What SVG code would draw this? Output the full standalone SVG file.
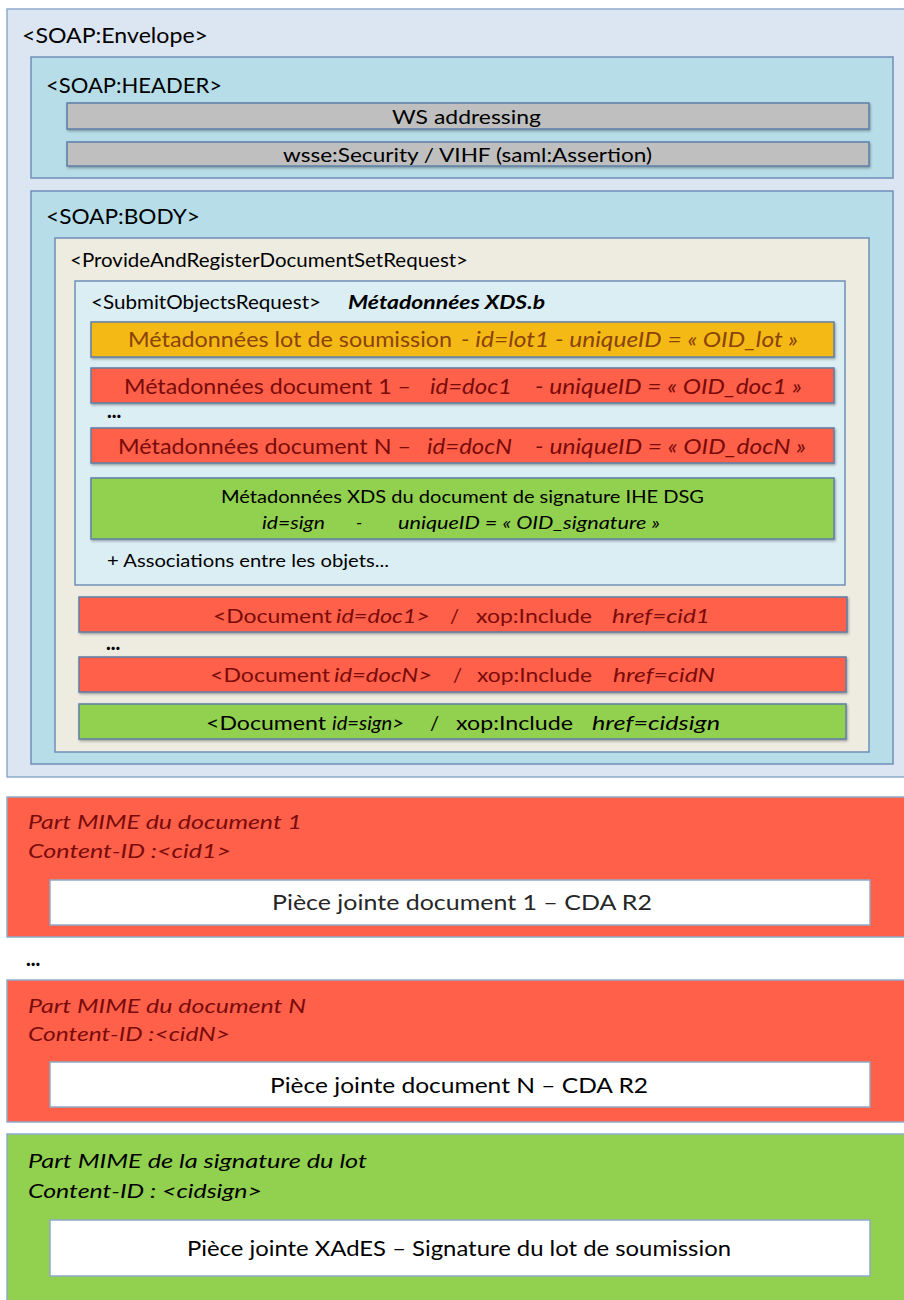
<svg xmlns="http://www.w3.org/2000/svg" width="904" height="1300" viewBox="0 0 904 1300">
<defs>
<filter id="sh" x="-5%" y="-20%" width="110%" height="150%">
<feDropShadow dx="1" dy="1.5" stdDeviation="0.8" flood-color="#404040" flood-opacity="0.45"/>
</filter>
<style>
text{font-family:Lato,"Open Sans","Liberation Sans",sans-serif;fill:#000}
.frame{stroke:#8eaacb;stroke-width:1.5}
.box{stroke:#6f8fb8;stroke-width:1.5}
.bar{stroke:#5e7fa8;stroke-width:1.5;filter:url(#sh)}
.env{fill:#dce6f2}
.sec{fill:#b7dee8}
.par{fill:#eeece1}
.sub{fill:#dbeef4}
.gray{fill:#bfbfbf}
.orange{fill:#f5b913}
.red{fill:#fe604a}
.green{fill:#92d050}
.white{fill:#ffffff;stroke:#8ea9c8;stroke-width:1.5}
.t20{font-size:22px}
.t18{font-size:20px}
.t17{font-size:18.5px}
.t16{font-size:18px}
.t19{font-size:21.5px}
.it{font-style:italic}
.bi{font-style:italic;font-weight:bold}
.brown{fill:#8a4309}
.dred{fill:#7a0b0b}
.dots{font-size:20px;font-weight:900}
</style>
</defs>
<g id="envelope">
<rect class="env frame" x="7" y="9" width="905" height="768"/>
<text class="t20" x="22" y="43" textLength="186" lengthAdjust="spacingAndGlyphs">&lt;SOAP:Envelope&gt;</text>
</g>
<g id="header">
<rect class="sec box" x="31" y="57" width="862" height="121"/>
<text class="t20" x="46" y="93" textLength="176" lengthAdjust="spacingAndGlyphs">&lt;SOAP:HEADER&gt;</text>
</g>
<g id="ws-addressing">
<rect class="gray bar" x="67" y="103" width="802" height="26"/>
<text class="t18" x="392" y="124" textLength="149" lengthAdjust="spacingAndGlyphs">WS addressing</text>
</g>
<g id="wsse-security">
<rect class="gray bar" x="67" y="142" width="802" height="24"/>
<text class="t18" x="283" y="162" textLength="369" lengthAdjust="spacingAndGlyphs">wsse:Security / VIHF (saml:Assertion)</text>
</g>
<g id="body">
<rect class="sec box" x="31" y="191" width="862" height="573"/>
<text class="t20" x="46" y="224" textLength="154" lengthAdjust="spacingAndGlyphs">&lt;SOAP:BODY&gt;</text>
</g>
<g id="provide-and-register">
<rect class="par box" x="55" y="238" width="814" height="514"/>
<text class="t17" x="70" y="267" textLength="398" lengthAdjust="spacingAndGlyphs">&lt;ProvideAndRegisterDocumentSetRequest&gt;</text>
</g>
<g id="submit-objects-request">
<rect class="sub box" x="75" y="281" width="770" height="304"/>
<text class="t17" x="91" y="309"><tspan textLength="230" lengthAdjust="spacingAndGlyphs">&lt;SubmitObjectsRequest&gt;</tspan><tspan class="bi" x="348" textLength="197" lengthAdjust="spacingAndGlyphs">Métadonnées XDS.b</tspan></text>
<text class="dots" x="107" y="418">...</text>
<text class="t16" x="107" y="567" textLength="282" lengthAdjust="spacingAndGlyphs">+ Associations entre les objets...</text>
</g>
<g id="meta-lot">
<rect class="orange bar" x="91" y="322" width="743" height="35"/>
<text class="t20 brown" x="128" y="347"><tspan textLength="324" lengthAdjust="spacingAndGlyphs">Métadonnées lot de soumission</tspan><tspan class="it" x="461" textLength="337" lengthAdjust="spacingAndGlyphs">- id=lot1 - uniqueID = « OID_lot »</tspan></text>
</g>
<g id="meta-doc1">
<rect class="red bar" x="91" y="368" width="743" height="35"/>
<text class="t20 dred" x="124" y="394"><tspan textLength="287" lengthAdjust="spacingAndGlyphs">Métadonnées document 1 –</tspan><tspan class="it" x="430" textLength="82" lengthAdjust="spacingAndGlyphs">id=doc1</tspan><tspan class="it" x="535" textLength="267" lengthAdjust="spacingAndGlyphs">- uniqueID = « OID_doc1 »</tspan></text>
</g>
<g id="meta-docN">
<rect class="red bar" x="91" y="428" width="743" height="35"/>
<text class="t20 dred" x="118" y="454"><tspan textLength="293" lengthAdjust="spacingAndGlyphs">Métadonnées document N –</tspan><tspan class="it" x="427" textLength="85" lengthAdjust="spacingAndGlyphs">id=docN</tspan><tspan class="it" x="535" textLength="271" lengthAdjust="spacingAndGlyphs">- uniqueID = « OID_docN »</tspan></text>
</g>
<g id="meta-signature">
<rect class="green bar" x="91" y="478" width="743" height="61"/>
<text class="t16" x="221" y="503" textLength="483" lengthAdjust="spacingAndGlyphs">Métadonnées XDS du document de signature IHE DSG</text>
<text class="t16 it" x="262" y="529"><tspan textLength="63" lengthAdjust="spacingAndGlyphs">id=sign</tspan><tspan x="356">-</tspan><tspan x="398" textLength="262" lengthAdjust="spacingAndGlyphs">uniqueID = « OID_signature »</tspan></text>
</g>
<g id="document-doc1">
<rect class="red bar" x="79" y="597" width="768" height="35"/>
<text class="t18 dred" x="213" y="623"><tspan textLength="119" lengthAdjust="spacingAndGlyphs">&lt;Document</tspan><tspan class="it" x="336" textLength="94" lengthAdjust="spacingAndGlyphs">id=doc1&gt;</tspan><tspan x="450">/</tspan><tspan x="476" textLength="116" lengthAdjust="spacingAndGlyphs">xop:Include</tspan><tspan class="it" x="612" textLength="98" lengthAdjust="spacingAndGlyphs">href=cid1</tspan></text>
</g>
<g id="dots-docs">
<text class="dots" x="106" y="650">...</text>
</g>
<g id="document-docN">
<rect class="red bar" x="79" y="657" width="767" height="35"/>
<text class="t18 dred" x="210" y="682"><tspan textLength="120" lengthAdjust="spacingAndGlyphs">&lt;Document</tspan><tspan class="it" x="334" textLength="98" lengthAdjust="spacingAndGlyphs">id=docN&gt;</tspan><tspan x="453">/</tspan><tspan x="477" textLength="115" lengthAdjust="spacingAndGlyphs">xop:Include</tspan><tspan class="it" x="613" textLength="102" lengthAdjust="spacingAndGlyphs">href=cidN</tspan></text>
</g>
<g id="document-sign">
<rect class="green bar" x="79" y="704" width="767" height="35"/>
<text class="t18" x="206" y="730"><tspan textLength="120" lengthAdjust="spacingAndGlyphs">&lt;Document</tspan><tspan class="it" x="332" textLength="72" lengthAdjust="spacingAndGlyphs">id=sign&gt;</tspan><tspan x="430">/</tspan><tspan x="456" textLength="117" lengthAdjust="spacingAndGlyphs">xop:Include</tspan><tspan class="it" x="592" textLength="128" lengthAdjust="spacingAndGlyphs">href=cidsign</tspan></text>
</g>
<g id="mime-doc1">
<rect class="red frame" x="7" y="797" width="905" height="140"/>
<text class="t18 it dred" x="28" y="829" textLength="274" lengthAdjust="spacingAndGlyphs">Part MIME du document 1</text>
<text class="t18 it dred" x="28" y="858" textLength="203" lengthAdjust="spacingAndGlyphs">Content-ID :&lt;cid1&gt;</text>
<rect class="white" x="50" y="880" width="820" height="45"/>
<text class="t19" x="272" y="910" textLength="380" lengthAdjust="spacingAndGlyphs" style="fill:#262626">Pièce jointe document 1 – CDA R2</text>
</g>
<g id="dots-mime">
<text class="dots" x="26" y="966">...</text>
</g>
<g id="mime-docN">
<rect class="red frame" x="7" y="980" width="905" height="142"/>
<text class="t18 it dred" x="28" y="1013" textLength="278" lengthAdjust="spacingAndGlyphs">Part MIME du document N</text>
<text class="t18 it dred" x="28" y="1041" textLength="202" lengthAdjust="spacingAndGlyphs">Content-ID :&lt;cidN&gt;</text>
<rect class="white" x="50" y="1062" width="820" height="45"/>
<text class="t19" x="270" y="1093" textLength="378" lengthAdjust="spacingAndGlyphs">Pièce jointe document N – CDA R2</text>
</g>
<g id="mime-signature">
<rect class="green frame" x="7" y="1134" width="905" height="180"/>
<text class="t18 it" x="28" y="1168" textLength="339" lengthAdjust="spacingAndGlyphs">Part MIME de la signature du lot</text>
<text class="t18 it" x="28" y="1198" textLength="234" lengthAdjust="spacingAndGlyphs">Content-ID : &lt;cidsign&gt;</text>
<rect class="white" x="50" y="1220" width="820" height="56"/>
<text class="t19" x="187" y="1256" textLength="544" lengthAdjust="spacingAndGlyphs">Pièce jointe XAdES – Signature du lot de soumission</text>
</g>
<g id="connectors"/>
</svg>
